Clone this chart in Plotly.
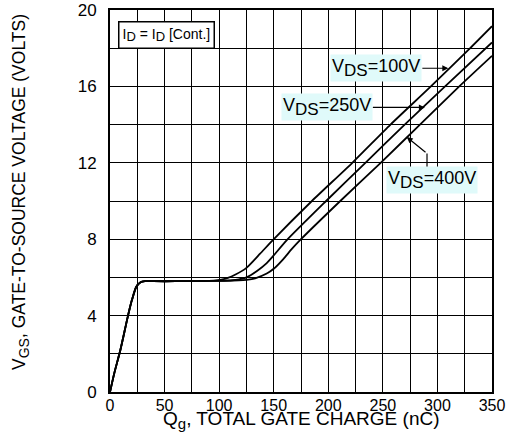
import plotly.graph_objects as go

# Gate charge curves (Qg in nC, VGS in V)
q_100 = [0, 4, 9.5, 16.5, 20, 24, 28, 32, 40, 60, 80, 95, 102, 108, 115, 125, 137.5, 149, 185, 222, 257, 294, 330, 350]
v_100 = [0, 1.0, 2.2, 4.0, 4.8, 5.5, 5.75, 5.8, 5.8, 5.8, 5.81, 5.83, 5.88, 5.97, 6.15, 6.5, 7.24, 7.94, 10.0, 12.0, 14.0, 16.0, 18.0, 19.15]

q_250 = [0, 4, 9.5, 16.5, 20, 24, 28, 32, 40, 60, 80, 100, 112, 118, 125, 135, 143.6, 150, 162, 198, 234, 270, 307, 350]
v_250 = [0, 1.0, 2.2, 4.0, 4.8, 5.5, 5.75, 5.8, 5.8, 5.8, 5.81, 5.82, 5.85, 5.9, 6.0, 6.35, 6.75, 7.15, 7.95, 10.0, 12.0, 14.0, 16.0, 18.3]

q_400 = [0, 4, 9.5, 16.5, 20, 24, 28, 32, 40, 60, 80, 100, 118, 125, 133, 143.6, 150, 158.8, 166, 175, 211, 248, 284, 320, 350]
v_400 = [0, 1.0, 2.2, 4.0, 4.8, 5.5, 5.75, 5.8, 5.8, 5.8, 5.81, 5.82, 5.84, 5.87, 5.95, 6.2, 6.45, 6.96, 7.45, 8.0, 10.0, 12.0, 14.0, 16.0, 17.6]

x_grid = [0, 25, 50, 75, 100, 125, 150, 175, 200, 225, 250, 275, 300, 325, 350]
x_labels = ["0", "", "50", "", "100", "", "150", "", "200", "", "250", "", "300", "", "350"]
y_grid = [0, 2, 4, 6, 8, 10, 12, 14, 16, 18, 20]
y_labels = ["0", "", "4", "", "8", "", "12", "", "16", "", "20"]

FONT = "Liberation Sans, Arial, sans-serif"

fig = go.Figure()
for q, v in [(q_100, v_100), (q_250, v_250), (q_400, v_400)]:
    fig.add_trace(go.Scatter(x=q, y=v, mode="lines",
                             line=dict(color="black", width=1.8, shape="spline", smoothing=0.6),
                             showlegend=False, hoverinfo="skip", cliponaxis=True))

axis_common = dict(showline=True, linecolor="black", linewidth=2, mirror=True,
                   showgrid=True, gridcolor="black", gridwidth=1, zeroline=False,
                   automargin=False, ticks="")

fig.update_xaxes(range=[0, 350], tickvals=x_grid, ticktext=x_labels,
                 tickfont=dict(family=FONT, size=16, color="black"),
                 ticklabelstandoff=-2, **axis_common)
fig.update_yaxes(range=[0, 20], tickvals=y_grid, ticktext=y_labels,
                 tickfont=dict(family=FONT, size=17, color="black"),
                 ticklabelstandoff=8, **axis_common)


def sub(s, size):
    return '<sub><span style="font-size:%dpx">%s</span></sub>' % (size, s)


annos = []
# Axis titles
annos.append(dict(text="V" + sub("GS", 14) + ", GATE-TO-SOURCE VOLTAGE (VOLTS)", textangle=-90,
                  xref="paper", yref="paper", x=(20 - 110) / 382, y=(392 - 192) / 382,
                  xanchor="center", yanchor="middle", showarrow=False,
                  font=dict(family=FONT, size=17.5, color="black")))
annos.append(dict(text="Q" + sub("g", 15) + ", TOTAL GATE CHARGE (nC)",
                  xref="paper", yref="paper", x=0.5, y=(392 - 420) / 382,
                  xanchor="center", yanchor="middle", showarrow=False,
                  font=dict(family=FONT, size=19, color="black")))
# ID box
annos.append(dict(text="I" + sub("D", 13) + " = I" + sub("D", 13) + " [Cont.]", xref="x", yref="y",
                  x=7.5, y=18.7, xanchor="left", yanchor="middle", showarrow=False,
                  bgcolor="white", bordercolor="black", borderwidth=1.5, borderpad=3,
                  font=dict(family=FONT, size=14, color="black")))
# VDS labels with arrows
lab_font = dict(family=FONT, size=18, color="black")
annos.append(dict(text="V" + sub("DS", 17) + "=100V", xref="x", yref="y", x=310, y=16.95,
                  ax=-26, ay=0, showarrow=True,
                  arrowhead=2, arrowsize=1, arrowwidth=1.2, arrowcolor="black",
                  bgcolor="#e0fafa", font=lab_font, xanchor="right"))
annos.append(dict(text="V" + sub("DS", 17) + "=250V", xref="x", yref="y", x=288.5, y=14.9,
                  ax=-52, ay=0, showarrow=True,
                  arrowhead=2, arrowsize=1, arrowwidth=1.2, arrowcolor="black",
                  bgcolor="#e0fafa", font=lab_font, xanchor="right"))
annos.append(dict(text="V" + sub("DS", 17) + "=400V", xref="x", yref="y", x=(432 - 110) / 1.0914, y=(391.6 - 180) / 19.1,
                  showarrow=False, bgcolor="#e0fafa", font=lab_font))
annos.append(dict(text="", xref="x", yref="y", x=(406.7 - 110) / 1.0914, y=(391.6 - 136.7) / 19.1,
                  ax=(427 - 110) / 1.0914, ay=(391.6 - 153) / 19.1, axref="x", ayref="y",
                  showarrow=True, arrowhead=2, arrowsize=1, arrowwidth=1.2, arrowcolor="black"))

shapes = [dict(type="line", xref="x", yref="y",
               x0=(427 - 110) / 1.0914, x1=(427 - 110) / 1.0914,
               y0=(391.6 - 153) / 19.1, y1=(391.6 - 167) / 19.1,
               line=dict(color="black", width=1.2))]

fig.update_layout(width=509, height=438, margin=dict(l=110, r=17, t=10, b=46, autoexpand=False),
                  plot_bgcolor="white", paper_bgcolor="white",
                  annotations=annos, shapes=shapes)

fig.write_html("out.html")
